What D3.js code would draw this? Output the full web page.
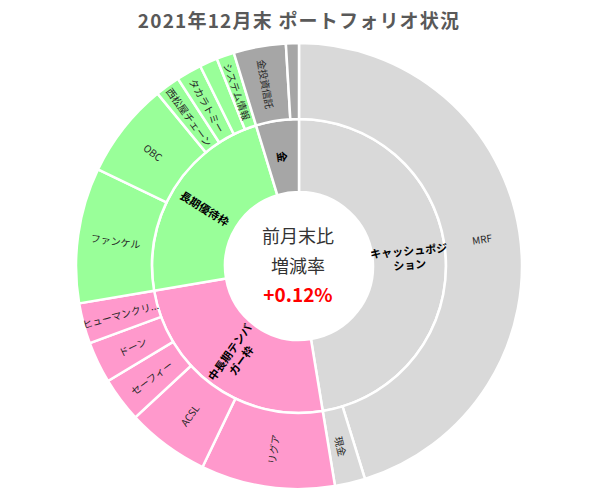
<!DOCTYPE html>
<html>
<head>
<meta charset="utf-8">
<script src="https://cdn.jsdelivr.net/npm/d3@7"></script>
<style>
    body { margin: 0; background: #fff; }
    svg text { font-family: "Noto Sans CJK JP", "Noto Sans", sans-serif; }
</style>
</head>
<body>
<div id="chart"></div>
<script>
const titleText = '2021年12月末 ポートフォリオ状況';

// inner ring (groups)
const groupNames = ['キャッシュポジション', '中長期テンバガー枠', '長期優待枠', '金'];
const groupLines = [['キャッシュポジ', 'ション'], ['中長期テンバ', 'ガー枠'], ['長期優待枠'], ['金']];
const groupColors = ['#d9d9d9', '#ff99cc', '#99ff99', '#a6a6a6'];

// outer ring (holdings), share in %
const holdingNames = ['MRF', '現金', 'リグア', 'ACSL', 'セーフィー', 'ドーン', 'ヒューマンクリ...',
    'ファンケル', 'OBC', '西松屋チェーン', 'タカラトミー', '', 'システム情報', '金投資信託', ''];
const holdingGroups = [0, 0, 1, 1, 1, 1, 1, 2, 2, 2, 2, 2, 2, 3, 3];
const holdingShares = [45.2, 2.2, 9.7, 6.0, 3.25, 3.0, 2.94, 9.8, 6.94, 1.8, 1.83, 1.3, 1.28, 3.78, 0.94];

const centerLines = ['前月末比', '増減率'];
const changeRate = '+0.12%';

class PortfolioSunburst {
    constructor(mountPoint) {
        this.rootDiv = d3.select(`#${mountPoint}`);
        this.svg = this.rootDiv.append('svg')
            .attr('width', 601)
            .attr('height', 493);
        this.makeTitle();
        this.makeRings();
        this.makeCenter();
    }

    makeTitle() {
        this.svg.append('text')
            .text(titleText)
            .attr('x', 299)
            .attr('y', 28)
            .attr('text-anchor', 'middle')
            .attr('font-size', 19)
            .attr('font-weight', 'bold')
            .attr('letter-spacing', 1.2)
            .attr('fill', '#595959');
    }

    makeRings() {
        const tree = {
            name: 'root',
            children: groupNames.map((g, i) => ({
                name: g,
                lines: groupLines[i],
                group: i,
                children: holdingNames
                    .map((h, j) => ({name: h, lines: [h], value: holdingShares[j], group: holdingGroups[j]}))
                    .filter(h => h.group === i)
            }))
        };

        const root = d3.hierarchy(tree).sum(d => d.value || 0);
        d3.partition().size([2 * Math.PI, 3])(root);

        //depth 1 -> 74..147, depth 2 -> 147..223
        this.radius = d3.scaleLinear()
            .domain([1, 2, 3])
            .range([74, 147, 223]);

        const arc = d3.arc()
            .startAngle(d => d.x0)
            .endAngle(d => d.x1)
            .innerRadius(d => this.radius(d.y0))
            .outerRadius(d => this.radius(d.y1));

        this.g = this.svg.append('g')
            .attr('transform', 'translate(299,266)');

        const nodes = root.descendants().filter(d => d.depth > 0);

        this.g.selectAll('path').data(nodes)
            .join('path')
            .attr('d', arc)
            .attr('fill', d => groupColors[d.data.group])
            .attr('stroke', '#fff')
            .attr('stroke-width', 2.5);

        const lineHeight = 14;
        const labels = this.g.selectAll('text.lbl').data(nodes.filter(d => d.data.name !== ''))
            .join('text')
            .classed('lbl', true)
            .attr('text-anchor', 'middle')
            .attr('dominant-baseline', 'central')
            .attr('font-size', d => d.depth === 1 ? 11 : 10)
            .attr('font-weight', d => d.depth === 1 ? 'bold' : 'normal')
            .attr('fill', d => d.depth === 1 ? '#000' : '#262626')
            .attr('transform', d => {
                const a = (d.x0 + d.x1) / 2;
                const r = this.radius((d.y0 + d.y1) / 2);
                const deg = a * 180 / Math.PI;
                const rot = deg < 180 ? deg - 90 : deg - 270;
                return `translate(${r * Math.sin(a)},${-r * Math.cos(a)}) rotate(${rot})`;
            });

        labels.selectAll('tspan')
            .data(d => d.data.lines.map((t, i, arr) => ({t: t, dy: i === 0 ? -(arr.length - 1) / 2 * lineHeight : lineHeight})))
            .join('tspan')
            .attr('x', 0)
            .attr('dy', d => d.dy)
            .text(d => d.t);
    }

    makeCenter() {
        this.g.append('circle')
            .attr('r', 73)
            .attr('fill', '#fff');

        this.g.selectAll('text.center').data(centerLines)
            .join('text')
            .classed('center', true)
            .text(d => d)
            .attr('x', -1)
            .attr('y', (d, i) => -23 + i * 30)
            .attr('text-anchor', 'middle')
            .attr('font-size', 18)
            .attr('fill', '#333');

        this.g.append('text')
            .text(changeRate)
            .attr('x', -1)
            .attr('y', 36)
            .attr('text-anchor', 'middle')
            .attr('font-size', 19)
            .attr('font-weight', 'bold')
            .attr('fill', '#ff0000');
    }
}

new PortfolioSunburst('chart');
</script>
</body>
</html>
